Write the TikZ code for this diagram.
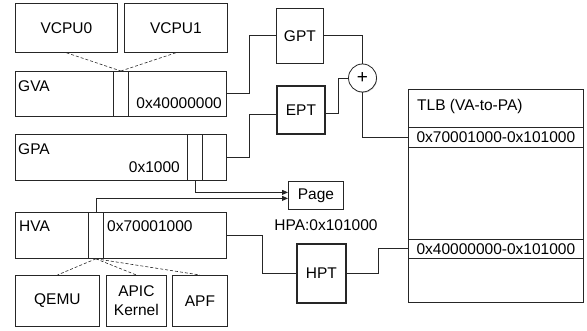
\documentclass[tikz,border=0pt]{standalone}
\usepackage{fontspec}
\setmainfont{Liberation Sans}
\usetikzlibrary{shadows,calc,arrows.meta}
\begin{document}
\begin{tikzpicture}[x=1pt,y=-1pt,
  font=\fontsize{15.5}{19}\selectfont,
  box/.style={draw=black!85, fill=white, line width=0.8pt, inner sep=0pt, anchor=north west,
    drop shadow={shadow xshift=0.6pt, shadow yshift=-0.9pt, fill=black!35}},
  thickbox/.style={box, line width=1.8pt},
  strip/.style={draw=black!85, line width=0.8pt, inner sep=0pt, anchor=north west, minimum width=15pt},
  row/.style={draw=black!85, line width=0.8pt, inner sep=0pt, anchor=north west, minimum width=175pt},
  lbl/.style={inner sep=0pt},
  wire/.style={draw=black!85, line width=0.8pt},
  dashline/.style={draw=black!85, line width=0.6pt, dash pattern=on 3pt off 2pt},
  arr/.style={wire, -{Triangle[length=6pt,width=5pt]}}
]
\useasboundingbox (0,0) rectangle (587,331);

% top VCPU boxes
\node[box, minimum width=102pt, minimum height=49pt] (vcpu0) at (15,3) {VCPU0};
\node[box, minimum width=103pt, minimum height=49pt] (vcpu1) at (124,3) {VCPU1};

% GVA
\node[box, minimum width=211pt, minimum height=45pt] (gva) at (15,71) {};
\node[strip, minimum height=45pt] (gvas) at (113,71) {};
\node[lbl, anchor=base west] (gvat) at (18,92) {GVA};
\node[lbl, anchor=base east] (gvaaddr) at (222,109) {0x40000000};

% GPA
\node[box, minimum width=211pt, minimum height=46pt] (gpa) at (15,134) {};
\node[strip, minimum height=46pt] (gpas) at (187,134) {};
\node[lbl, anchor=base west] (gpat) at (18,155) {GPA};
\node[lbl, anchor=base east] (gpaaddr) at (180,173) {0x1000};

% HVA
\node[box, minimum width=211pt, minimum height=46pt] (hva) at (15,212) {};
\node[strip, minimum height=46pt] (hvas) at (88,212) {};
\node[lbl, anchor=base west] (hvat) at (19,232) {HVA};
\node[lbl, anchor=base west] (hvaaddr) at (107,232) {0x70001000};

% bottom boxes
\node[box, minimum width=84pt, minimum height=51pt] (qemu) at (15,275) {QEMU};
\node[box, minimum width=60pt, minimum height=51pt, align=center] (apic) at (106,275) {APIC\\Kernel};
\node[box, minimum width=55pt, minimum height=51pt] (apf) at (172,275) {APF};

% page tables
\node[box, minimum width=47pt, minimum height=55pt] (gpt) at (276,8) {GPT};
\node[thickbox, minimum width=48pt, minimum height=48pt] (ept) at (276,85) {EPT};
\node[thickbox, minimum width=49pt, minimum height=59pt] (hpt) at (296,243) {HPT};
\node[box, circle, minimum size=28pt, anchor=center, font=\fontsize{19}{19}\selectfont] (plus) at (362.5,78) {+};

% Page
\node[box, minimum width=55pt, minimum height=28pt] (page) at (288,181) {Page};
\node[lbl, anchor=base] (hpa) at (326,231) {HPA:0x101000};

% TLB
\node[box, minimum width=175pt, minimum height=213pt] (tlb) at (408,89) {};
\node[lbl, anchor=base west] (tlbt) at (417,111) {TLB (VA-to-PA)};
\node[row, minimum height=20pt] (row1) at (408,127) {0x70001000-0x101000};
\node[row, minimum height=19pt] (row2) at (408,239) {0x40000000-0x101000};

% dashed links
\draw[dashline] (vcpu0.south) -- (gvas.north);
\draw[dashline] (vcpu1.south) -- (gvas.north);
\draw[dashline] (hvas.south) -- (qemu.north);
\draw[dashline] (hvas.south) -- (apic.north);
\draw[dashline] (hvas.south) -- (apf.north);

% wires
\draw[wire] (gva.east) -- ++(23,0) |- (gpt.west);
\draw[wire] (gpa.east) -- ++(23,0) |- ($(ept.west)+(0,5)$);
\draw[wire] (gpt.east) -| (plus.north);
\draw[wire] ($(ept.east)+(0,4)$) -- ++(13,0) |- (plus.west);
\draw[wire] (plus.south) |- (row1.west);
\draw[wire] (hva.east) -- ++(36,0) |- (hpt.west);
\draw[wire] (hpt.east) -- ++(32,0) |- (row2.west);

% arrows to page
\draw[arr] (gpas.south) |- ($(page.west)+(0,-3)$);
\draw[arr] (hvas.north) |- ($(page.west)+(0,3)$);
\end{tikzpicture}
\end{document}
